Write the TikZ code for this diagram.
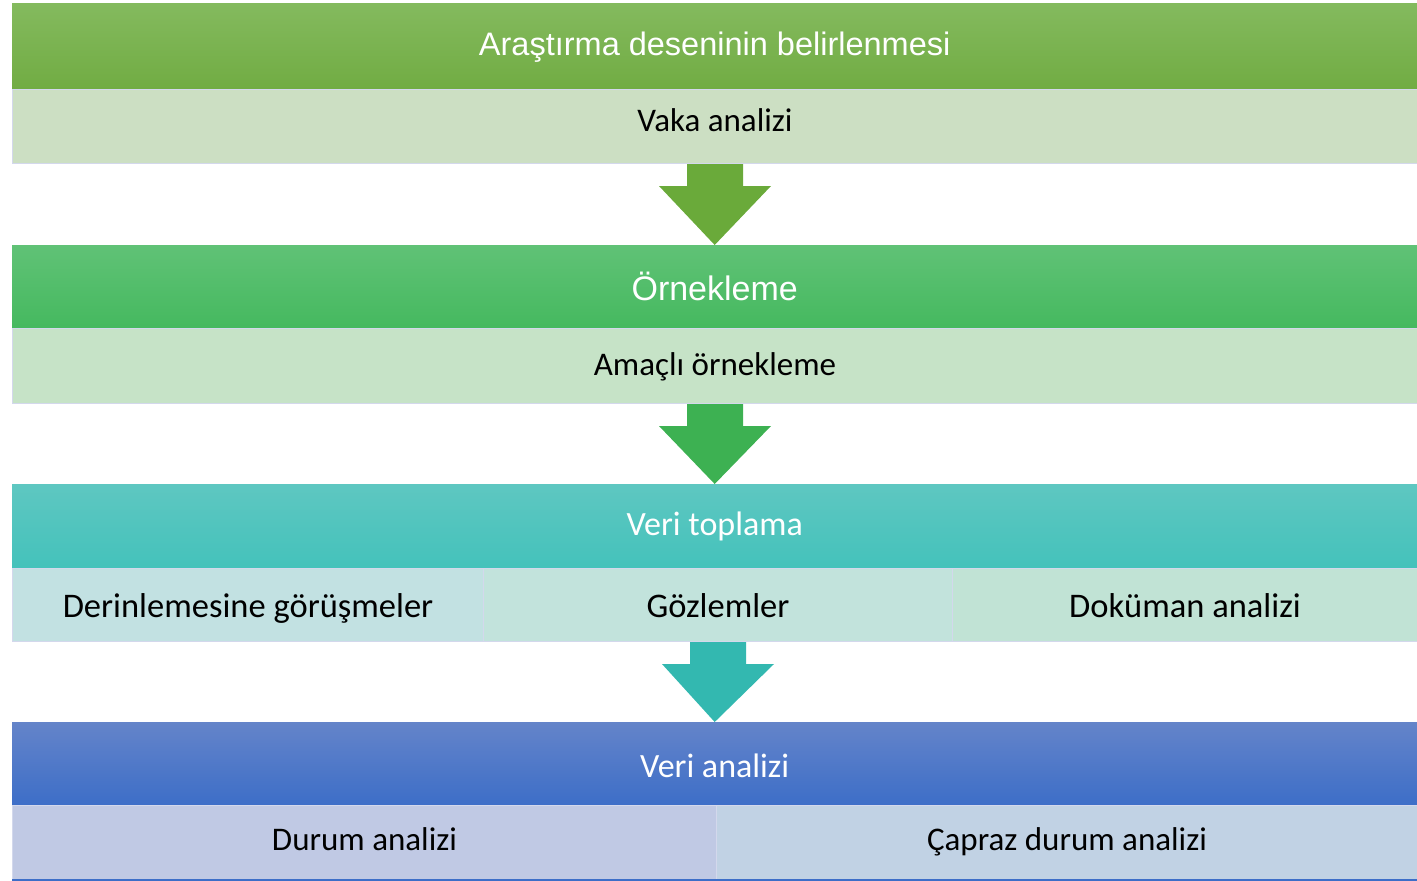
\documentclass[tikz,border=0pt]{standalone}
\usepackage{fontspec}
\setmainfont{Carlito}
\newfontfamily\arialfont{Liberation Sans}
\usetikzlibrary{calc}
\definecolor{hAtop}{HTML}{84BA5E}\definecolor{hAbot}{HTML}{71AC43}
\definecolor{sA}{HTML}{CCDFC3}\definecolor{aA}{HTML}{6AAA3A}
\definecolor{hBtop}{HTML}{60C276}\definecolor{hBbot}{HTML}{45B95F}
\definecolor{sB}{HTML}{C6E3C7}\definecolor{aB}{HTML}{3DB152}
\definecolor{hCtop}{HTML}{5EC7C1}\definecolor{hCbot}{HTML}{44C2BB}
\definecolor{sC1}{HTML}{C2E1E2}\definecolor{sC2}{HTML}{C2E3DC}\definecolor{sC3}{HTML}{C1E3D5}
\definecolor{aC}{HTML}{33B8B0}
\definecolor{hDtop}{HTML}{6484C9}\definecolor{hDbot}{HTML}{3D6EC8}
\definecolor{sD1}{HTML}{C0C9E4}\definecolor{sD2}{HTML}{C1D2E4}
\definecolor{edge}{HTML}{D3D8EC}
\tikzset{
  hdr/.style={anchor=north west,inner sep=0pt,minimum width=1405pt,minimum height=#1,
    text=white,text depth=0pt},
  sub/.style={anchor=north west,inner sep=0pt,draw=edge,line width=1pt,
    minimum height=#1,text=black,text depth=0pt},
  fA/.style={font=\arialfont\fontsize{#1}{40}\selectfont},
  fC/.style={font=\fontsize{#1}{40}\selectfont},
}
\begin{document}
\begin{tikzpicture}[x=1pt,y=-1pt]
\useasboundingbox (0,0) rectangle (1417,881);
% row 1
\node[hdr=86pt,fA=32.5,text height=18pt,top color=hAtop,bottom color=hAbot] (h1) at (12,3) {Araştırma deseninin belirlenmesi};
\node[sub=74pt,fC=33,text height=10pt,fill=sA,minimum width=1405pt] (s1) at (12,89) {Vaka analizi};
% row 2
\node[hdr=83pt,fA=34,text height=27pt,top color=hBtop,bottom color=hBbot] (h2) at (12,245) {Örnekleme};
\node[sub=75pt,fC=33,text height=19pt,fill=sB,minimum width=1405pt] (s2) at (12,328) {Amaçlı örnekleme};
% row 3
\node[hdr=84pt,fC=34,text height=18pt,top color=hCtop,bottom color=hCbot] (h3) at (12,484) {Veri toplama};
\node[sub=73pt,fC=34.5,text height=24pt,fill=sC1,minimum width=471pt] (s3a) at (12,568) {Derinlemesine görüşmeler};
\node[sub=73pt,fC=34.5,text height=24pt,fill=sC2,minimum width=469pt] (s3b) at (483,568) {Gözlemler};
\node[sub=73pt,fC=34.5,text height=24pt,fill=sC3,minimum width=465pt] (s3c) at (952,568) {Doküman analizi};
% row 4
\node[hdr=83pt,fC=34,text height=27pt,top color=hDtop,bottom color=hDbot] (h4) at (12,722) {Veri analizi};
\node[sub=74pt,fC=33,text height=16pt,fill=sD1,minimum width=704pt] (s4a) at (12,805) {Durum analizi};
\node[sub=74pt,fC=33,text height=16pt,fill=sD2,minimum width=701pt] (s4b) at (716,805) {Çapraz durum analizi};
\draw[hDbot,line width=1.5pt] (s4a.south west) -- (s4b.south east);
% arrows
\foreach \a/\b/\c in {s1/h2/aA, s2/h3/aB, s3b/h4/aC}{
  \fill[\c] ($(\a.south)+(-28,0)$) -- ($(\a.south)+(28,0)$) -- ($(\a.south)+(28,22)$)
    -- ($(\a.south)+(56,22)$) -- (\b.north) -- ($(\a.south)+(-56,22)$)
    -- ($(\a.south)+(-28,22)$) -- cycle;
}
\end{tikzpicture}
\end{document}
